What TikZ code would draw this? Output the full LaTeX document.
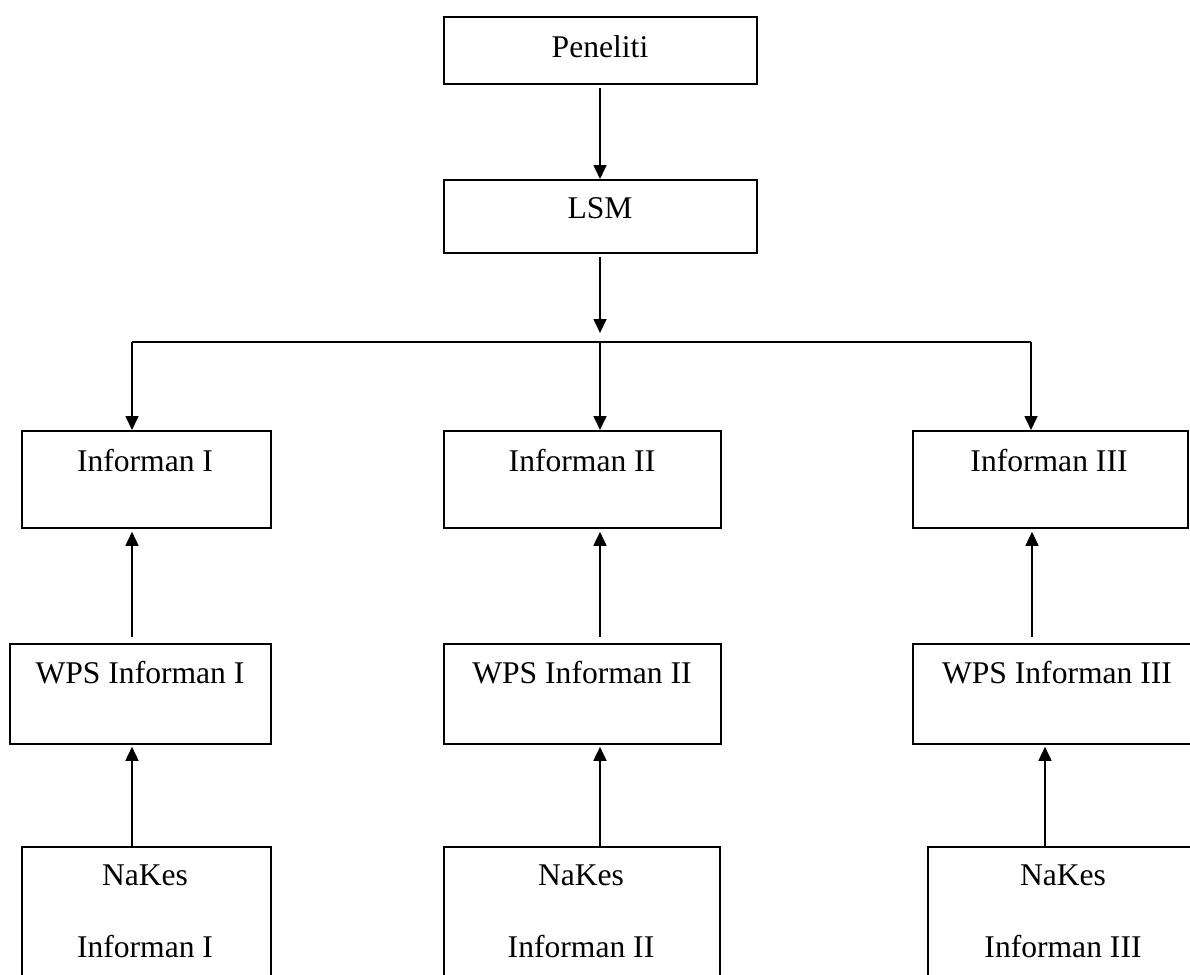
\documentclass[tikz,border=0pt]{standalone}
\usepackage{fontspec}
\setmainfont{Liberation Serif}
\usetikzlibrary{arrows.meta}
\begin{document}
\begin{tikzpicture}[x=1pt,y=-1pt,
  box/.style={draw, line width=1.8pt, inner sep=0pt, anchor=north west},
  lbl/.style={inner sep=0pt, anchor=base, font=\fontsize{31.6}{38}\selectfont},
  arr/.style={line width=1.7pt, -{Triangle[length=14pt,width=13pt]}},
  ln/.style={line width=1.7pt}]
\useasboundingbox (0,0) rectangle (1190,974);
\fill[white] (0,0) rectangle (1190,974);
\clip (0,0) rectangle (1190,974);

% boxes
\node[box, minimum width=313pt, minimum height=67pt] (pen) at (443,16) {};
\node[box, minimum width=313pt, minimum height=73pt] (lsm) at (443,179) {};
\node[box, minimum width=249pt, minimum height=97pt] (inf1) at (21,430) {};
\node[box, minimum width=277pt, minimum height=97pt] (inf2) at (443,430) {};
\node[box, minimum width=275pt, minimum height=97pt] (inf3) at (912,430) {};
\node[box, minimum width=261pt, minimum height=100pt] (wps1) at (9,643) {};
\node[box, minimum width=277pt, minimum height=100pt] (wps2) at (443,643) {};
\node[box, minimum width=300pt, minimum height=100pt] (wps3) at (912,643) {};
\node[box, minimum width=249pt, minimum height=150pt] (nak1) at (21,846) {};
\node[box, minimum width=276pt, minimum height=150pt] (nak2) at (443,846) {};
\node[box, minimum width=280pt, minimum height=150pt] (nak3) at (927,846) {};

% texts
\node[lbl] (pent) at (600,57) {Peneliti};
\node[lbl] (lsmt) at (600,218) {LSM};
\node[lbl] (inf1t) at (145,471) {Informan I};
\node[lbl] (inf2t) at (582,471) {Informan II};
\node[lbl] (inf3t) at (1049,471) {Informan III};
\node[lbl] (wps1t) at (140,683) {WPS Informan I};
\node[lbl] (wps2t) at (582,683) {WPS Informan II};
\node[lbl] (wps3t) at (1057,683) {WPS Informan III};
\node[lbl] (nak1a) at (145,885) {NaKes};
\node[lbl] (nak1b) at (145,957) {Informan I};
\node[lbl] (nak2a) at (581,885) {NaKes};
\node[lbl] (nak2b) at (581,957) {Informan II};
\node[lbl] (nak3a) at (1063,885) {NaKes};
\node[lbl] (nak3b) at (1063,957) {Informan III};

% connector coordinates
\coordinate (jt) at (600,333);
\coordinate (jc) at (600,342);
\coordinate (jl) at (132,342);
\coordinate (jr) at (1031,342);
\coordinate (c1) at (132,0);
\coordinate (c2) at (600,0);
\coordinate (c3a) at (1032,0);
\coordinate (c3b) at (1045,0);

% connectors
\draw[arr, shorten <=3pt] (pen.south -| jc) -- (lsm.north -| jc);
\draw[arr, shorten <=3pt] (lsm.south -| jc) -- (jt);
\draw[ln] (jl) -- (jr);
\draw[arr] (jl) -- (inf1.north -| jl);
\draw[arr] (jc) -- (inf2.north -| jc);
\draw[arr] (jr) -- (inf3.north -| jr);

\draw[arr, shorten <=6pt, shorten >=3pt] (wps1.north -| c1) -- (inf1.south -| c1);
\draw[arr, shorten <=6pt, shorten >=3pt] (wps2.north -| c2) -- (inf2.south -| c2);
\draw[arr, shorten <=6pt, shorten >=3pt] (wps3.north -| c3a) -- (inf3.south -| c3a);

\draw[arr, shorten >=2pt] (nak1.north -| c1) -- (wps1.south -| c1);
\draw[arr, shorten >=2pt] (nak2.north -| c2) -- (wps2.south -| c2);
\draw[arr, shorten >=2pt] (nak3.north -| c3b) -- (wps3.south -| c3b);
\end{tikzpicture}
\end{document}
